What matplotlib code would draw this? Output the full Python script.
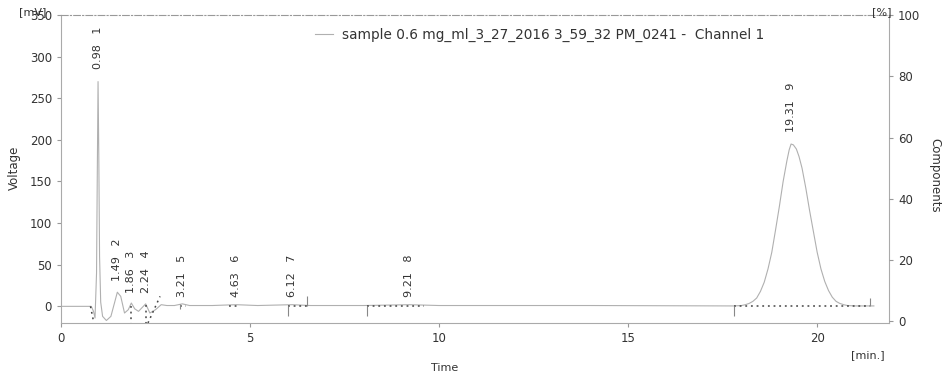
import matplotlib
matplotlib.use("Agg")
import matplotlib.pyplot as plt

# chromatogram trace (time in min, signal in mV)
trace_t = [0.0, 0.80, 0.86, 0.90, 0.94, 0.96, 0.98, 1.00, 1.02, 1.05, 1.10, 1.20, 1.32, 1.42, 1.49, 1.58,
           1.68, 1.78, 1.86, 1.95, 2.05, 2.24, 2.35, 2.50, 2.65, 2.80, 3.00, 3.21, 3.40, 4.00, 4.63, 5.20,
           6.12, 6.60, 8.00, 9.21, 10.0, 14.0, 17.8, 18.0, 18.1, 18.2, 18.3, 18.4, 18.5, 18.6, 18.7,
           18.8, 18.9, 19.0, 19.1, 19.2, 19.26, 19.31, 19.37, 19.45, 19.52, 19.6, 19.7, 19.8, 19.9,
           20.0, 20.1, 20.2, 20.3, 20.4, 20.5, 20.6, 20.7, 20.8, 21.0, 21.5]
trace_v = [0.0, 0.0, -6, -14, 40, 160, 270, 180, 60, 5, -12, -17, -12, 5, 17, 12,
           -8, -4, 4, -3, -6, 3, -8, -4, 2, 1, 1, 3, 1, 1, 2, 1,
           2, 1, 1, 2, 1, 1, 0.5, 1, 2, 3.5, 6, 10, 18, 29, 45,
           65, 92, 120, 150, 175, 188, 195, 194, 189, 180, 166, 142, 115, 90,
           65, 45, 30, 19, 11, 6, 3.5, 2, 1, 0.5, 0.5]

peak_times = [0.98, 1.49, 1.86, 2.24, 3.21, 4.63, 6.12, 9.21, 19.31]
peak_ids = [1, 2, 3, 4, 5, 6, 7, 8, 9]
label_base = [285, 31, 16, 16, 11, 11, 11, 11, 209]

# integration baselines (dotted) and segment marks
base_segments = [([0.78, 0.86], [0, -18]), ([1.86, 1.86], [0, -20]), ([2.24, 2.24], [2, -20]),
                 ([2.30, 2.62], [-20, 12]), ([3.15, 3.30], [1, 1]), ([4.45, 4.72], [1, 1]),
                 ([6.00, 6.50], [1, 1]), ([8.10, 9.60], [1, 1]), ([17.80, 21.40], [1, 1])]
mark_t = [3.15, 6.00, 6.50, 8.10, 17.80, 21.40]
mark_lo = [-3, -12, 1, -12, -12, 1]
mark_hi = [3, 1, 12, 1, 1, 10]

legend_text = "sample 0.6 mg_ml_3_27_2016 3_59_32 PM_0241 -  Channel 1"

W, H = 943, 379
fig = plt.figure(figsize=(W / 100, H / 100), dpi=100)
ax = fig.add_axes([61 / W, 1 - 323 / H, (889 - 61) / W, (323 - 15) / H])

grey = "#b0b0b0"
txt = "#333333"

ax.plot(trace_t, trace_v, color=grey, lw=0.8, label=legend_text)
for xs, ys in base_segments:
    ax.plot(xs, ys, color="#444444", lw=1.1, ls=(0, (1.2, 2.5)))
ax.vlines(mark_t, mark_lo, mark_hi, color="#888888", lw=0.8)

for t, n, b in zip(peak_times, peak_ids, label_base):
    ax.text(t, b, f"{t:.2f}   {n}", rotation=90, ha="center", va="bottom",
            fontsize=8, color=txt)

ax.set_xlim(0, 21.9)
ax.set_ylim(-20, 350)
ax.set_xticks([0, 5, 10, 15, 20])
ax.set_yticks([0, 50, 100, 150, 200, 250, 300, 350])
ax.tick_params(labelsize=8.5, colors="#999999", labelcolor=txt, length=3)

for side in ["left", "bottom", "right"]:
    ax.spines[side].set_color("#aaaaaa")
    ax.spines[side].set_linewidth(0.8)
ax.spines["top"].set_color("#999999")
ax.spines["top"].set_linestyle((0, (6, 2, 1, 2)))

ax2 = ax.twinx()
ax2.set_ylim(-0.5, 100)
ax2.set_yticks([0, 20, 40, 60, 80, 100])
ax2.tick_params(labelsize=8.5, colors="#999999", labelcolor=txt, length=3)
for s in ax2.spines.values():
    s.set_visible(False)

ax.legend(loc="center", bbox_to_anchor=(0.578, 0.934), frameon=False, fontsize=9.8,
          handlelength=1.3, handletextpad=0.7, labelcolor=txt)

fig.text(14 / W, 1 - 168 / H, "Voltage", rotation=90, ha="center", va="center", fontsize=8.5, color=txt)
fig.text(935 / W, 1 - 175 / H, "Components", rotation=270, ha="center", va="center", fontsize=8.5, color=txt)
fig.text(445 / W, 1 - 368 / H, "Time", ha="center", va="center", fontsize=8, color=txt)
fig.text(868 / W, 1 - 355 / H, "[min.]", ha="center", va="center", fontsize=8, color=txt)
fig.text(33 / W, 1 - 12 / H, "[mV]", ha="center", va="center", fontsize=8, color=txt)
fig.text(882 / W, 1 - 12 / H, "[%]", ha="center", va="center", fontsize=8, color=txt)

fig.savefig("out.png", dpi=100)
